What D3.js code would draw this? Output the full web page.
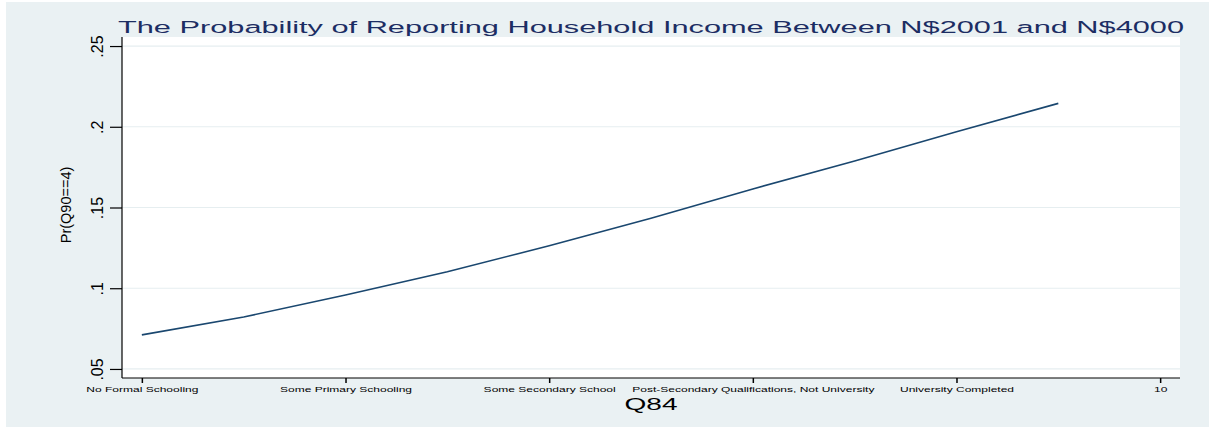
<!DOCTYPE html>
<html>
<head>
<meta charset="utf-8">
<script src="https://cdn.jsdelivr.net/npm/d3@7"></script>
<style>
  html, body { margin: 0; padding: 0; background: #ffffff; }
  svg { display: block; font-family: "Liberation Sans", Arial, sans-serif; }
</style>
</head>
<body>
<svg id="chart" width="1209" height="428"></svg>
<script>
// Predicted probability of reporting income category 4 across Q84 (education)
const xValues = [0, 1, 2, 3, 4, 5, 6, 7, 8, 9];
const probValues = [0.0711, 0.0822, 0.0958, 0.1102, 0.1263, 0.1433, 0.1615, 0.1788, 0.1969, 0.2145];

const xTickValues = [0, 2, 4, 6, 8, 10];
const xTickLabels = ["No Formal Schooling", "Some Primary Schooling", "Some Secondary School",
                     "Post-Secondary Qualifications, Not University", "University Completed", "10"];
const yTickValues = [0.05, 0.10, 0.15, 0.20, 0.25];
const yTickLabels = [".05", ".1", ".15", ".2", ".25"];

const titleText = "The Probability of Reporting Household Income Between N$2001 and N$4000";
const xTitle = "Q84";
const yTitle = "Pr(Q90==4)";

const W = 1209, H = 428;
const plot = { left: 122, right: 1180, top: 37, bottom: 378 };
const colors = {
  outer: "#eaf1f3",
  grid: "#e6eef0",
  line: "#1a476f",
  title: "#1c2d63",
  axis: "#000000"
};

const svg = d3.select("#chart");

// outer graph region
svg.append("rect").attr("x", 6).attr("y", 2).attr("width", W - 6).attr("height", 425)
  .attr("fill", colors.outer);
// plot region
svg.append("rect").attr("x", plot.left).attr("y", plot.top)
  .attr("width", plot.right - plot.left).attr("height", plot.bottom - plot.top)
  .attr("fill", "#ffffff");

const x = d3.scaleLinear().domain([-0.195, 10.195]).range([plot.left, plot.right]);
const y = d3.scaleLinear().domain([0.0444, 0.2556]).range([plot.bottom, plot.top]);

// horizontal grid lines
svg.append("g").selectAll("line").data(yTickValues).join("line")
  .attr("x1", plot.left).attr("x2", plot.right)
  .attr("y1", d => y(d)).attr("y2", d => y(d))
  .attr("stroke", colors.grid).attr("stroke-width", 1.2);

// y axis with rotated tick labels
const yAxis = d3.axisLeft(y).tickValues(yTickValues)
  .tickFormat((d, i) => yTickLabels[i]).tickSize(12);
const gy = svg.append("g").attr("transform", `translate(${plot.left},0)`).call(yAxis);
gy.select(".domain").attr("d", `M0,${plot.top}V${plot.bottom}`).attr("stroke", colors.axis).attr("stroke-width", 1.2);
gy.selectAll(".tick line").attr("stroke", colors.axis).attr("stroke-width", 1.2);
gy.selectAll(".tick text")
  .attr("font-size", 16).attr("fill", "#000")
  .attr("text-anchor", "middle")
  .attr("transform", "translate(-25,0) rotate(-90)")
  .attr("x", 0).attr("y", 0).attr("dy", "0.36em");

// x axis
const xAxis = d3.axisBottom(x).tickValues(xTickValues)
  .tickFormat((d, i) => xTickLabels[i]).tickSize(5).tickPadding(3);
const gx = svg.append("g").attr("transform", `translate(0,${plot.bottom})`).call(xAxis);
gx.select(".domain").attr("d", `M${plot.left},0H${plot.right}`).attr("stroke", colors.axis).attr("stroke-width", 1.2);
gx.selectAll(".tick line").attr("stroke", colors.axis).attr("stroke-width", 1.5);
gx.selectAll(".tick text").attr("font-size", 8).attr("fill", "#000")
  .attr("lengthAdjust", "spacingAndGlyphs")
  .each(function () {
    const w = this.getComputedTextLength();
    d3.select(this).attr("textLength", w * 1.5);
  });

// fitted probability line
const line = d3.line().x((d, i) => x(xValues[i])).y(d => y(d));
svg.append("path").datum(probValues)
  .attr("d", line).attr("fill", "none")
  .attr("stroke", colors.line).attr("stroke-width", 1.6);

// titles
const mid = (plot.left + plot.right) / 2;
svg.append("text").attr("x", mid).attr("y", 32.5)
  .attr("text-anchor", "middle").attr("font-size", 16.8).attr("fill", colors.title)
  .attr("lengthAdjust", "spacingAndGlyphs").attr("textLength", 1066)
  .text(titleText);

const xt = svg.append("text").attr("x", mid).attr("y", 409.5)
  .attr("text-anchor", "middle").attr("font-size", 16.5).attr("fill", "#000")
  .text(xTitle);
xt.attr("lengthAdjust", "spacingAndGlyphs").attr("textLength", xt.node().getComputedTextLength() * 1.7);

svg.append("text")
  .attr("transform", `translate(71,205) rotate(-90)`)
  .attr("text-anchor", "middle").attr("font-size", 14.5).attr("fill", "#000")
  .text(yTitle);
</script>
</body>
</html>
